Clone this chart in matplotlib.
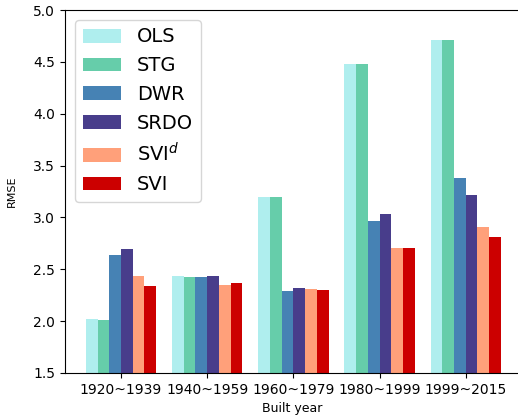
import numpy as np
import matplotlib
matplotlib.use("Agg")
import matplotlib.pyplot as plt

# data
groups = ["1920~1939", "1940~1959", "1960~1979", "1980~1999", "1999~2015"]
methods = ["OLS", "STG", "DWR", "SRDO", "SVI$^d$", "SVI"]
colors = ["#AFEEEE", "#66CDAA", "#4682B4", "#483D8B", "#FFA07A", "#CC0000"]

ols = [2.02, 2.44, 3.20, 4.48, 4.71]
stg = [2.01, 2.43, 3.20, 4.48, 4.71]
dwr = [2.64, 2.43, 2.29, 2.97, 3.38]
srdo = [2.70, 2.44, 2.32, 3.03, 3.22]
svi_d = [2.44, 2.35, 2.31, 2.71, 2.91]
svi = [2.34, 2.37, 2.30, 2.71, 2.81]

series = [ols, stg, dwr, srdo, svi_d, svi]

fig = plt.figure(figsize=(5.18, 4.17), dpi=100)
ax = fig.add_axes([65 / 518, 44 / 417, 455 / 518, 363 / 417])

x = np.arange(len(groups))
width = 0.136
for i, (vals, name, c) in enumerate(zip(series, methods, colors)):
    offset = (i - (len(series) - 1) / 2) * width
    ax.bar(x + offset, vals, width, color=c, label=name)

ax.set_ylim(1.5, 5.0)
ax.set_xlim(-0.65, 4.63)
ax.set_xticks(x)
ax.set_xticklabels(groups, fontsize=10)
ax.tick_params(axis="y", labelsize=10)
ax.set_ylabel("RMSE", fontsize=8, labelpad=12)
ax.set_xlabel("Built year", fontsize=9)
ax.spines["right"].set_visible(False)

ax.legend(loc="upper left", fontsize=14)

fig.savefig("out.png", dpi=100)
